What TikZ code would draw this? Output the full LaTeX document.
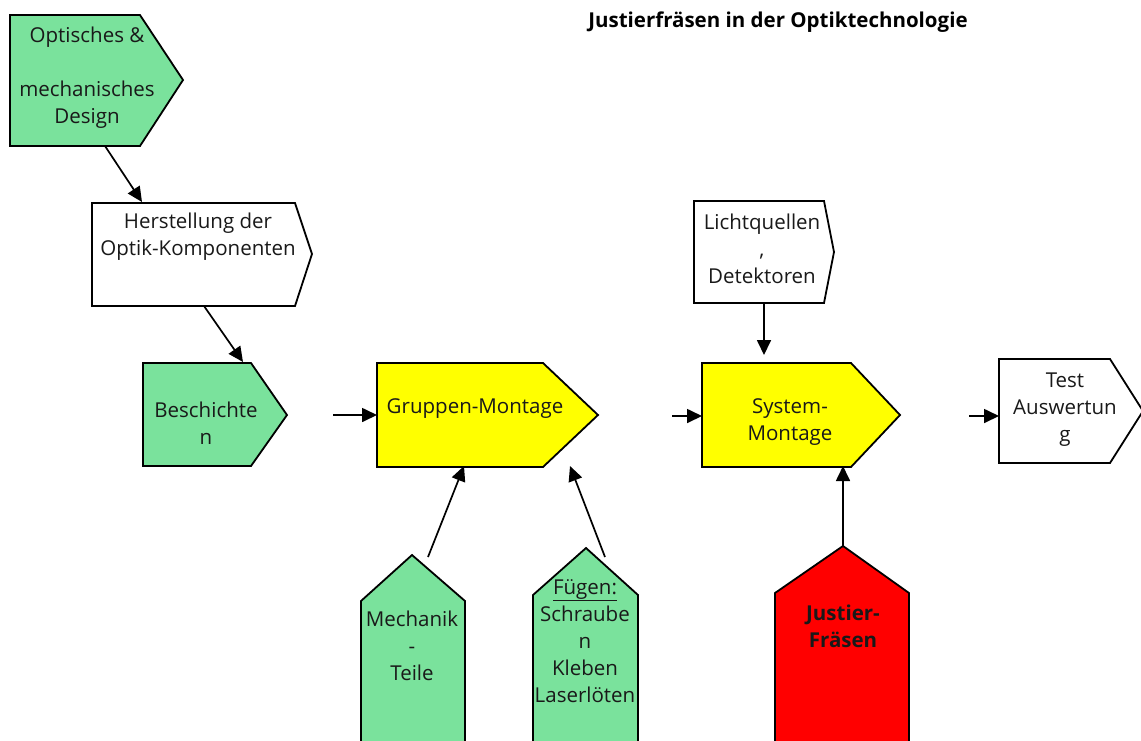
\documentclass[tikz,border=0pt]{standalone}
\usepackage{fontspec}
\setmainfont{Open Sans}
\usetikzlibrary{arrows.meta}
\definecolor{boxgreen}{RGB}{122,226,156}
\definecolor{boxyellow}{RGB}{255,255,0}
\definecolor{boxred}{RGB}{255,0,0}
\tikzset{
  shapeline/.style={draw=black, line width=1.8pt, line join=miter},
  greenbox/.style={shapeline, fill=boxgreen},
  yellowbox/.style={shapeline, fill=boxyellow},
  redbox/.style={shapeline, fill=boxred},
  whitebox/.style={shapeline, fill=white},
  lbl/.style={align=center, inner sep=0pt, font=\fontsize{20.5}{27}\selectfont, text=black!90},
  conn/.style={line width=1.7pt, -{Triangle[length=15pt,width=14pt]}},
}
\begin{document}
\begin{tikzpicture}[x=1pt,y=-1pt]
\useasboundingbox (0,0) rectangle (1141,740);
\fill[white] (0,0) rectangle (1141,740);
% title
\node[font=\fontsize{20.5}{24}\selectfont\bfseries, inner sep=0pt] (title) at (778,22) {Justierfräsen in der Optiktechnologie};
% shapes
\draw[greenbox] (10,15) -- (140,15) -- (183,80) -- (140,146) -- (10,146) -- cycle;
\node[lbl] (opt) at (87,78) {Optisches \&\\\mbox{}\\mechanisches\\Design};
\draw[whitebox] (92,203) -- (295,203) -- (312,254) -- (295,306) -- (92,306) -- cycle;
\node[lbl] (her) at (198,237) {Herstellung der\\Optik-Komponenten};
\draw[greenbox] (143,363) -- (251,363) -- (287,415) -- (251,466) -- (143,466) -- cycle;
\node[lbl] (bes) at (206,423) {Beschichte\\n};
\draw[yellowbox] (377,363) -- (543,363) -- (598,415) -- (543,467) -- (377,467) -- cycle;
\node[lbl] (gru) at (475,409) {Gruppen-Montage};
\draw[greenbox] (361,745) -- (361,601) -- (412,555) -- (465,601) -- (465,745);
\node[lbl] (mec) at (412,646) {Mechanik\\-\\Teile};
\draw[greenbox] (533,745) -- (533,595) -- (586,548) -- (638,595) -- (638,745);
\node[lbl] (fue) at (585,641) {\underline{Fügen:}\\Schraube\\n\\Kleben\\Laserlöten};
\draw[whitebox] (694,201) -- (824,201) -- (834,252) -- (824,303) -- (694,303) -- cycle;
\node[lbl] (lic) at (762,249) {Lichtquellen\\,\\Detektoren};
\draw[yellowbox] (702,363) -- (851,363) -- (900,415) -- (851,467) -- (702,467) -- cycle;
\node[lbl] (sys) at (790,422) {System-\\Montage};
\draw[redbox] (775,745) -- (775,593) -- (843,546) -- (909,593) -- (909,745);
\node[lbl, font=\fontsize{20.5}{27}\selectfont\bfseries] (jus) at (843,626) {Justier-\\Fräsen};
\draw[whitebox] (999,359) -- (1110,359) -- (1143,411) -- (1110,463) -- (999,463) -- cycle;
\node[lbl] (tes) at (1065,410) {Test\\Auswertun\\g};
% connector coordinates
\coordinate (optB) at (105,146);
\coordinate (herT) at (142,202);
\coordinate (herB) at (204,306);
\coordinate (besT) at (243,362);
\coordinate (gruIn0) at (333,415);
\coordinate (gruIn) at (377,415);
\coordinate (mecT) at (428,557);
\coordinate (gruB1) at (464,466);
\coordinate (fueT) at (605,557);
\coordinate (gruB2) at (570,466);
\coordinate (licB) at (764,303);
\coordinate (sysT) at (764,355);
\coordinate (sysIn0) at (672,416);
\coordinate (sysIn) at (702,416);
\coordinate (jusT) at (843,546);
\coordinate (sysB) at (843,466);
\coordinate (tesIn0) at (969,416);
\coordinate (tesIn) at (999,416);
% connectors
\draw[conn] (optB) -- (herT);
\draw[conn] (herB) -- (besT);
\draw[conn] (gruIn0) -- (gruIn);
\draw[conn] (mecT) -- (gruB1);
\draw[conn] (fueT) -- (gruB2);
\draw[conn] (licB) -- (sysT);
\draw[conn] (sysIn0) -- (sysIn);
\draw[conn] (jusT) -- (sysB);
\draw[conn] (tesIn0) -- (tesIn);
\end{tikzpicture}
\end{document}
